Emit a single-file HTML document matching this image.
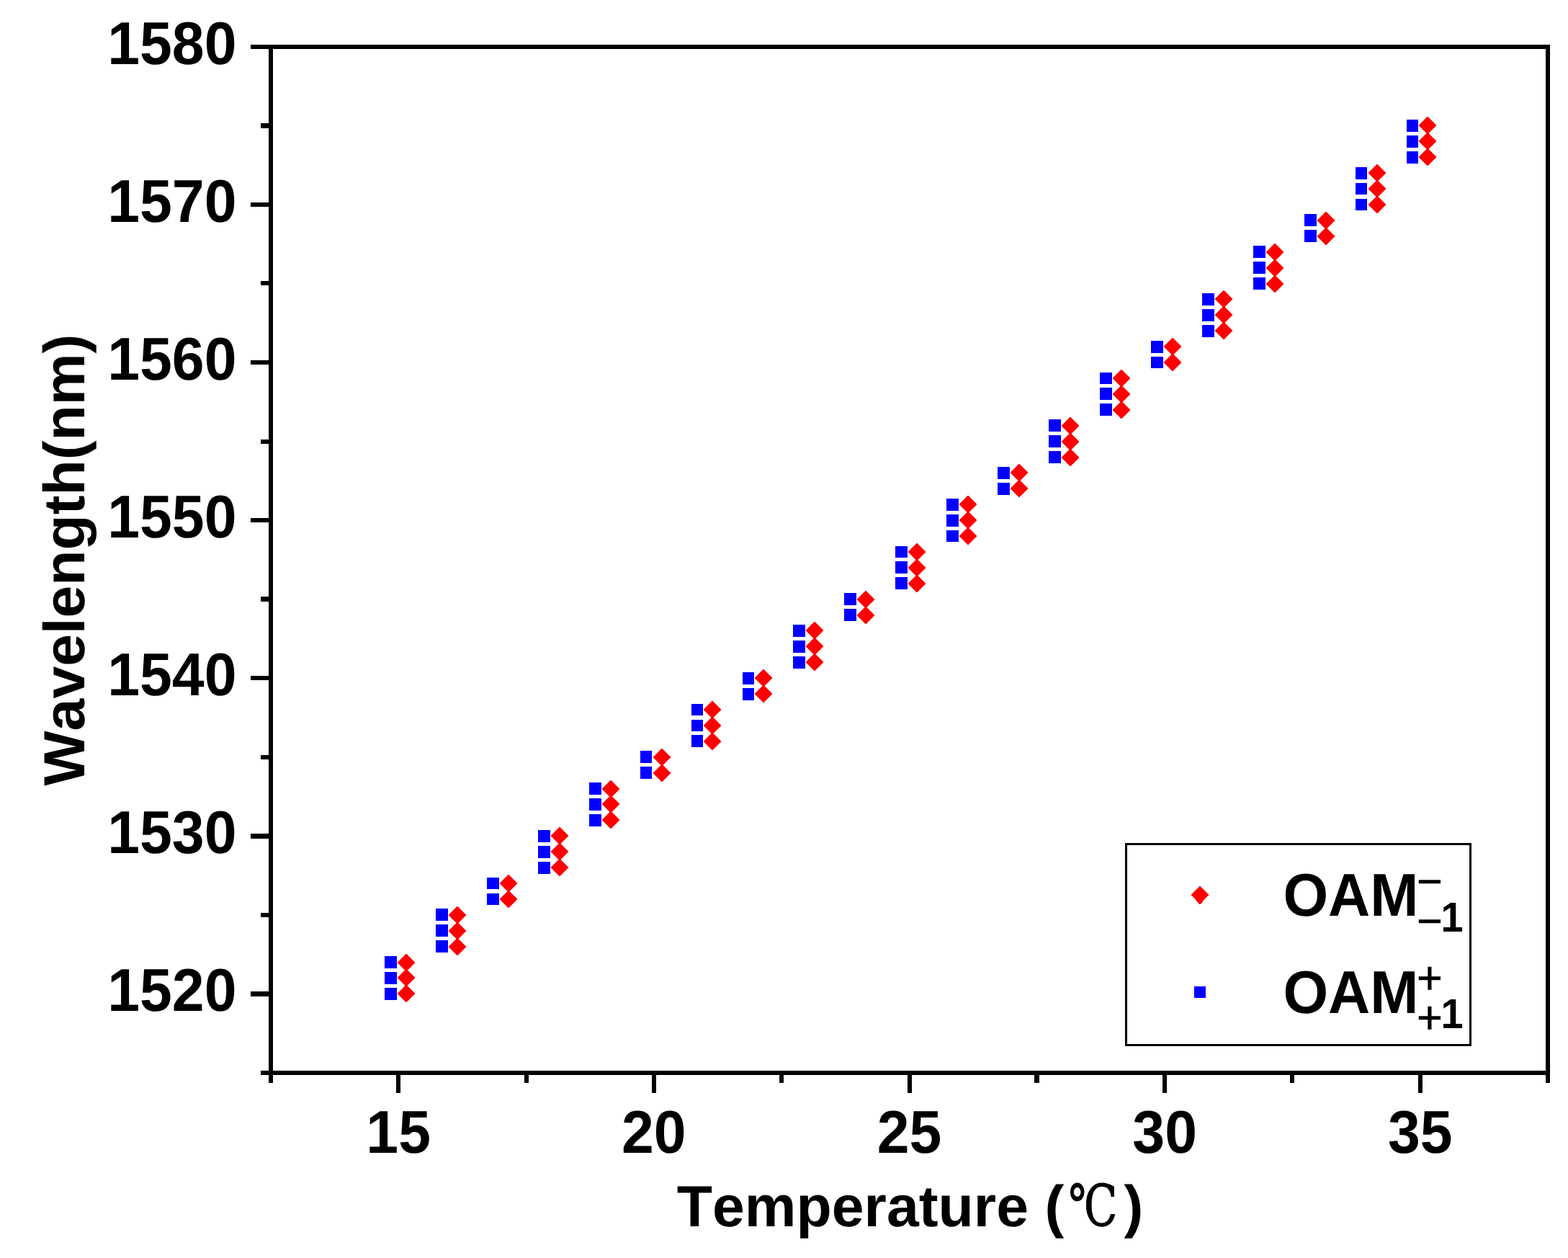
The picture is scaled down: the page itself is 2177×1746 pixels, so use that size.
<!DOCTYPE html>
<html lang="en"><head><meta charset="utf-8"><title>Wavelength vs Temperature</title>
<style>
html,body{margin:0;padding:0;background:#fff;}
body{width:2177px;height:1746px;overflow:hidden;}
svg{display:block;}
text{font-family:"Liberation Sans",sans-serif;font-weight:bold;fill:#000;font-kerning:none;font-variant-ligatures:none;text-rendering:geometricPrecision;}
.ax{fill:#000;shape-rendering:crispEdges;}
.sq{fill:#00f;shape-rendering:crispEdges;}
.di{fill:#f00;shape-rendering:crispEdges;}
.sg{font-weight:normal;stroke:#000;stroke-width:0.5px;}
</style></head><body>
<svg width="2177" height="1746" viewBox="0 0 2177 1746" role="img" aria-label="Wavelength versus temperature scatter plot">
<rect x="0" y="0" width="2177" height="1746" fill="#fff"/>
<g class="ax">
<rect x="348" y="62" width="1804" height="6"/>
<rect x="362" y="1486" width="1790" height="6"/>
<rect x="373" y="62" width="6" height="1441"/>
<rect x="2146" y="62" width="6" height="1441"/>
<rect x="362" y="171" width="12" height="7"/>
<rect x="348" y="281" width="26" height="6"/>
<rect x="362" y="390" width="12" height="6"/>
<rect x="348" y="500" width="26" height="6"/>
<rect x="362" y="610" width="12" height="6"/>
<rect x="348" y="719" width="26" height="6"/>
<rect x="362" y="828" width="12" height="7"/>
<rect x="348" y="938" width="26" height="6"/>
<rect x="362" y="1048" width="12" height="6"/>
<rect x="348" y="1157" width="26" height="7"/>
<rect x="362" y="1267" width="12" height="6"/>
<rect x="348" y="1376" width="26" height="7"/>
<rect x="550" y="1491" width="6" height="26"/>
<rect x="728" y="1491" width="6" height="12"/>
<rect x="905" y="1491" width="6" height="26"/>
<rect x="1082" y="1491" width="6" height="12"/>
<rect x="1260" y="1491" width="6" height="26"/>
<rect x="1436" y="1491" width="7" height="12"/>
<rect x="1614" y="1491" width="6" height="26"/>
<rect x="1791" y="1491" width="6" height="12"/>
<rect x="1969" y="1491" width="6" height="26"/>
</g>
<g class="sq">
<rect x="534" y="1371" width="17" height="17"/>
<rect x="534" y="1349" width="17" height="17"/>
<rect x="534" y="1327" width="17" height="17"/>
<rect x="605" y="1305" width="17" height="17"/>
<rect x="605" y="1283" width="17" height="17"/>
<rect x="605" y="1261" width="17" height="17"/>
<rect x="676" y="1240" width="17" height="16"/>
<rect x="676" y="1218" width="17" height="16"/>
<rect x="747" y="1196" width="17" height="17"/>
<rect x="747" y="1174" width="17" height="17"/>
<rect x="747" y="1152" width="17" height="17"/>
<rect x="818" y="1130" width="17" height="17"/>
<rect x="818" y="1108" width="17" height="17"/>
<rect x="818" y="1086" width="17" height="17"/>
<rect x="889" y="1064" width="16" height="17"/>
<rect x="889" y="1042" width="16" height="17"/>
<rect x="960" y="1020" width="16" height="17"/>
<rect x="960" y="999" width="16" height="16"/>
<rect x="960" y="977" width="16" height="16"/>
<rect x="1031" y="955" width="16" height="17"/>
<rect x="1031" y="933" width="16" height="17"/>
<rect x="1101" y="911" width="17" height="17"/>
<rect x="1101" y="889" width="17" height="17"/>
<rect x="1101" y="867" width="17" height="17"/>
<rect x="1172" y="845" width="17" height="17"/>
<rect x="1172" y="823" width="17" height="17"/>
<rect x="1243" y="801" width="17" height="17"/>
<rect x="1243" y="779" width="17" height="17"/>
<rect x="1243" y="758" width="17" height="16"/>
<rect x="1314" y="736" width="17" height="16"/>
<rect x="1314" y="714" width="17" height="17"/>
<rect x="1314" y="692" width="17" height="17"/>
<rect x="1385" y="670" width="17" height="17"/>
<rect x="1385" y="648" width="17" height="17"/>
<rect x="1456" y="626" width="17" height="17"/>
<rect x="1456" y="604" width="17" height="17"/>
<rect x="1456" y="582" width="17" height="17"/>
<rect x="1527" y="560" width="17" height="17"/>
<rect x="1527" y="538" width="17" height="17"/>
<rect x="1527" y="517" width="17" height="16"/>
<rect x="1598" y="495" width="17" height="16"/>
<rect x="1598" y="473" width="17" height="17"/>
<rect x="1669" y="451" width="17" height="17"/>
<rect x="1669" y="429" width="17" height="17"/>
<rect x="1669" y="407" width="17" height="17"/>
<rect x="1740" y="385" width="17" height="17"/>
<rect x="1740" y="363" width="17" height="17"/>
<rect x="1740" y="341" width="17" height="17"/>
<rect x="1811" y="319" width="17" height="17"/>
<rect x="1811" y="297" width="17" height="17"/>
<rect x="1882" y="276" width="16" height="16"/>
<rect x="1882" y="254" width="16" height="16"/>
<rect x="1882" y="232" width="16" height="17"/>
<rect x="1953" y="210" width="16" height="17"/>
<rect x="1953" y="188" width="16" height="17"/>
<rect x="1953" y="166" width="16" height="17"/>
</g>
<g class="di">
<path d="M564 1366.5L576.5 1379L564 1391.5L551.5 1379Z"/>
<path d="M564 1344.5L576.5 1357L564 1369.5L551.5 1357Z"/>
<path d="M564 1323.5L576.5 1336L564 1348.5L551.5 1336Z"/>
<path d="M635 1301.5L647.5 1314L635 1326.5L622.5 1314Z"/>
<path d="M635 1279.5L647.5 1292L635 1304.5L622.5 1292Z"/>
<path d="M635 1257.5L647.5 1270L635 1282.5L622.5 1270Z"/>
<path d="M706 1235.5L718.5 1248L706 1260.5L693.5 1248Z"/>
<path d="M706 1213.5L718.5 1226L706 1238.5L693.5 1226Z"/>
<path d="M777 1191.5L789.5 1204L777 1216.5L764.5 1204Z"/>
<path d="M777 1169.5L789.5 1182L777 1194.5L764.5 1182Z"/>
<path d="M777 1147.5L789.5 1160L777 1172.5L764.5 1160Z"/>
<path d="M848 1125.5L860.5 1138L848 1150.5L835.5 1138Z"/>
<path d="M848 1103.5L860.5 1116L848 1128.5L835.5 1116Z"/>
<path d="M848 1082.5L860.5 1095L848 1107.5L835.5 1095Z"/>
<path d="M919 1060.5L931.5 1073L919 1085.5L906.5 1073Z"/>
<path d="M919 1038.5L931.5 1051L919 1063.5L906.5 1051Z"/>
<path d="M989 1016.5L1001.5 1029L989 1041.5L976.5 1029Z"/>
<path d="M989 994.5L1001.5 1007L989 1019.5L976.5 1007Z"/>
<path d="M989 972.5L1001.5 985L989 997.5L976.5 985Z"/>
<path d="M1060 950.5L1072.5 963L1060 975.5L1047.5 963Z"/>
<path d="M1060 928.5L1072.5 941L1060 953.5L1047.5 941Z"/>
<path d="M1131 906.5L1143.5 919L1131 931.5L1118.5 919Z"/>
<path d="M1131 884.5L1143.5 897L1131 909.5L1118.5 897Z"/>
<path d="M1131 862.5L1143.5 875L1131 887.5L1118.5 875Z"/>
<path d="M1202 841.5L1214.5 854L1202 866.5L1189.5 854Z"/>
<path d="M1202 819.5L1214.5 832L1202 844.5L1189.5 832Z"/>
<path d="M1273 797.5L1285.5 810L1273 822.5L1260.5 810Z"/>
<path d="M1273 775.5L1285.5 788L1273 800.5L1260.5 788Z"/>
<path d="M1273 753.5L1285.5 766L1273 778.5L1260.5 766Z"/>
<path d="M1344 731.5L1356.5 744L1344 756.5L1331.5 744Z"/>
<path d="M1344 709.5L1356.5 722L1344 734.5L1331.5 722Z"/>
<path d="M1344 687.5L1356.5 700L1344 712.5L1331.5 700Z"/>
<path d="M1415 665.5L1427.5 678L1415 690.5L1402.5 678Z"/>
<path d="M1415 643.5L1427.5 656L1415 668.5L1402.5 656Z"/>
<path d="M1486 622.5L1498.5 635L1486 647.5L1473.5 635Z"/>
<path d="M1486 600.5L1498.5 613L1486 625.5L1473.5 613Z"/>
<path d="M1486 578.5L1498.5 591L1486 603.5L1473.5 591Z"/>
<path d="M1557 556.5L1569.5 569L1557 581.5L1544.5 569Z"/>
<path d="M1557 534.5L1569.5 547L1557 559.5L1544.5 547Z"/>
<path d="M1557 512.5L1569.5 525L1557 537.5L1544.5 525Z"/>
<path d="M1628 490.5L1640.5 503L1628 515.5L1615.5 503Z"/>
<path d="M1628 468.5L1640.5 481L1628 493.5L1615.5 481Z"/>
<path d="M1699 446.5L1711.5 459L1699 471.5L1686.5 459Z"/>
<path d="M1699 424.5L1711.5 437L1699 449.5L1686.5 437Z"/>
<path d="M1699 402.5L1711.5 415L1699 427.5L1686.5 415Z"/>
<path d="M1770 381.5L1782.5 394L1770 406.5L1757.5 394Z"/>
<path d="M1770 359.5L1782.5 372L1770 384.5L1757.5 372Z"/>
<path d="M1770 337.5L1782.5 350L1770 362.5L1757.5 350Z"/>
<path d="M1841 315.5L1853.5 328L1841 340.5L1828.5 328Z"/>
<path d="M1841 293.5L1853.5 306L1841 318.5L1828.5 306Z"/>
<path d="M1912 271.5L1924.5 284L1912 296.5L1899.5 284Z"/>
<path d="M1912 249.5L1924.5 262L1912 274.5L1899.5 262Z"/>
<path d="M1912 227.5L1924.5 240L1912 252.5L1899.5 240Z"/>
<path d="M1982 205.5L1994.5 218L1982 230.5L1969.5 218Z"/>
<path d="M1982 183.5L1994.5 196L1982 208.5L1969.5 196Z"/>
<path d="M1982 161.5L1994.5 174L1982 186.5L1969.5 174Z"/>
</g>
<text transform="translate(328.50 1403.46) scale(1 1.0400)" font-size="80.60" text-anchor="end">1520</text>
<text transform="translate(328.50 1184.38) scale(1 1.0400)" font-size="80.60" text-anchor="end">1530</text>
<text transform="translate(328.50 965.31) scale(1 1.0400)" font-size="80.60" text-anchor="end">1540</text>
<text transform="translate(328.50 746.23) scale(1 1.0400)" font-size="80.60" text-anchor="end">1550</text>
<text transform="translate(328.50 527.15) scale(1 1.0400)" font-size="80.60" text-anchor="end">1560</text>
<text transform="translate(328.50 308.08) scale(1 1.0400)" font-size="80.60" text-anchor="end">1570</text>
<text transform="translate(328.50 89.00) scale(1 1.0400)" font-size="80.60" text-anchor="end">1580</text>
<text transform="translate(553.20 1600.00) scale(1 1.0400)" font-size="80.60" text-anchor="middle">15</text>
<text transform="translate(907.85 1600.00) scale(1 1.0400)" font-size="80.60" text-anchor="middle">20</text>
<text transform="translate(1262.50 1600.00) scale(1 1.0400)" font-size="80.60" text-anchor="middle">25</text>
<text transform="translate(1617.15 1600.00) scale(1 1.0400)" font-size="80.60" text-anchor="middle">30</text>
<text transform="translate(1971.80 1600.00) scale(1 1.0400)" font-size="80.60" text-anchor="middle">35</text>
<text x="939.8" y="1702" font-size="80.60">Temperature (<tspan x="1483.6" dy="-0.8" font-family="'DejaVu Serif','Noto Serif CJK SC',serif" font-weight="normal" stroke="#000" stroke-width="1.2" font-size="79.3" textLength="67.76" lengthAdjust="spacingAndGlyphs">℃</tspan><tspan x="1560.5" dy="0.8">)</tspan></text>
<text transform="translate(117.00 1090.50) rotate(-90)" font-size="80.60" text-anchor="start">Wavelength(nm)</text>
<rect x="1563.5" y="1171.5" width="478" height="279" fill="#fff" stroke="#000" stroke-width="3" shape-rendering="crispEdges"/>
<path class="di" d="M1666 1229.6L1678.5 1242.2L1666 1255.2L1653.5 1242.2Z"/>
<rect class="sq" x="1658" y="1369" width="16" height="16"/>
<text transform="translate(1781.40 1271.00) scale(1 1.0400)" font-size="80.60">OAM<tspan class="sg" x="185.64" y="-25.10" font-size="61.50">−</tspan><tspan class="sg" x="185.64" y="27.79" font-size="61.50">−</tspan><tspan x="219.10" y="20.87" font-size="55.98">1</tspan></text>
<text transform="translate(1781.40 1406.00) scale(1 1.0400)" font-size="80.60">OAM<tspan class="sg" x="185.64" y="-25.67" font-size="61.50">+</tspan><tspan class="sg" x="185.64" y="27.21" font-size="61.50">+</tspan><tspan x="219.10" y="20.00" font-size="55.98">1</tspan></text>
</svg>
</body></html>
